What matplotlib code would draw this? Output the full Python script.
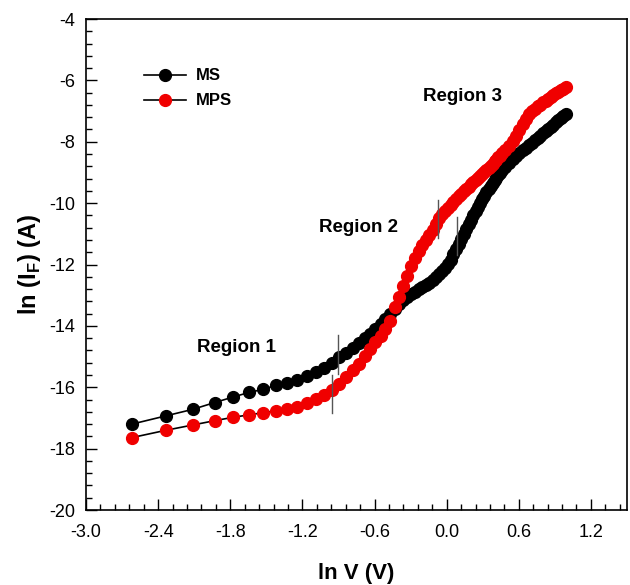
import numpy as np
import matplotlib
matplotlib.use("Agg")
import matplotlib.pyplot as plt
from matplotlib.ticker import MultipleLocator, FuncFormatter

plt.rcParams['font.family'] = ['Liberation Sans', 'DejaVu Sans']
plt.rcParams['mathtext.fontset'] = 'custom'
plt.rcParams['mathtext.rm'] = 'Liberation Sans'
plt.rcParams['mathtext.bf'] = 'Liberation Sans:bold'
plt.rcParams['axes.unicode_minus'] = False

# applied voltage (V)
volts = [0.073, 0.097, 0.121, 0.145, 0.169, 0.193, 0.217, 0.241, 0.265, 0.289,
         0.313, 0.337, 0.361, 0.385, 0.409, 0.433, 0.457, 0.481, 0.505, 0.529,
         0.553, 0.577, 0.601, 0.625, 0.649, 0.673, 0.697, 0.721, 0.745, 0.769,
         0.793, 0.817, 0.841, 0.865, 0.889, 0.913, 0.937, 0.961, 0.985,
         1.009, 1.033, 1.057, 1.081, 1.105, 1.129, 1.153, 1.177, 1.201, 1.225,
         1.249, 1.273, 1.297, 1.321, 1.345, 1.369, 1.393, 1.417, 1.441, 1.465,
         1.489, 1.513, 1.537, 1.561, 1.585,
         1.63, 1.68, 1.73, 1.78, 1.83, 1.88, 1.93, 1.98, 2.03, 2.08,
         2.13, 2.18, 2.23, 2.28, 2.33, 2.38, 2.43, 2.48, 2.53, 2.58, 2.63, 2.70]

# ln(I_F) for the MS diode
ln_i_ms = [-17.20, -16.93, -16.72, -16.50, -16.32, -16.17, -16.07, -15.94, -15.85, -15.75,
           -15.63, -15.50, -15.36, -15.22, -15.02, -14.88, -14.73, -14.56, -14.40, -14.25,
           -14.09, -13.93, -13.77, -13.62, -13.45, -13.28, -13.15, -13.06, -12.97, -12.89,
           -12.81, -12.74, -12.67, -12.60, -12.52, -12.42, -12.31, -12.20, -12.10,
           -11.98, -11.84, -11.67, -11.50, -11.33, -11.18, -11.01, -10.84, -10.69, -10.54,
           -10.40, -10.26, -10.12, -10.00, -9.88, -9.76, -9.65, -9.54, -9.45, -9.35,
           -9.26, -9.17, -9.08, -9.01, -8.93,
           -8.81, -8.68, -8.56, -8.46, -8.37, -8.28, -8.19, -8.11, -8.03, -7.95,
           -7.88, -7.81, -7.73, -7.66, -7.59, -7.51, -7.44, -7.37, -7.30, -7.23, -7.17, -7.10]

# ln(I_F) for the MPS diode
ln_i_mps = [-17.64, -17.40, -17.23, -17.09, -16.98, -16.90, -16.83, -16.77, -16.71, -16.64,
            -16.50, -16.37, -16.24, -16.08, -15.89, -15.67, -15.45, -15.23, -14.99, -14.75,
            -14.51, -14.34, -14.11, -13.84, -13.40, -13.05, -12.70, -12.38, -12.05, -11.78,
            -11.55, -11.37, -11.21, -11.04, -10.86, -10.68, -10.50, -10.37, -10.25,
            -10.15, -10.05, -9.96, -9.87, -9.78, -9.70, -9.62, -9.54, -9.46, -9.39,
            -9.32, -9.25, -9.18, -9.11, -9.04, -8.98, -8.91, -8.85, -8.78, -8.71,
            -8.64, -8.58, -8.51, -8.45, -8.38,
            -8.26, -8.13, -7.99, -7.80, -7.61, -7.43, -7.26, -7.10, -7.00, -6.92,
            -6.85, -6.79, -6.72, -6.66, -6.60, -6.54, -6.48, -6.42, -6.37, -6.32, -6.28, -6.22]

# region boundaries: (ln V, ln I low, ln I high)
bounds_ms = [(-0.906, -15.57, -14.30), (0.090, -11.69, -10.45)]
bounds_mps = [(-0.953, -16.85, -15.60), (-0.068, -11.15, -9.90)]

region_labels = ['Region 1', 'Region 2', 'Region 3']
region_pos = [(-1.75, -14.69), (-0.73, -10.81), (0.13, -6.54)]

ln_v = np.log(volts)

fig = plt.figure(figsize=(6.3, 5.85), dpi=100)
ax = fig.add_axes([0.1365, 0.1282, 0.8587, 0.8393])

ax.plot(ln_v, ln_i_ms, '-o', color='black', lw=1.2, ms=8.5,
        mfc='black', mec='black', label='MS')
ax.plot(ln_v, ln_i_mps, '-o', color='black', lw=1.2, ms=8.5,
        mfc='#f00000', mec='#f00000', label='MPS')

for x, y0, y1 in bounds_ms + bounds_mps:
    ax.plot([x, x], [y0, y1], color='#555555', lw=1.0)

for txt, (x, y) in zip(region_labels, region_pos):
    ax.text(x, y, txt, fontsize=13.5, fontweight='bold', ha='center', va='center')

def xfmt(v, pos):
    if abs(v) < 1e-9:
        return '0.0'
    return '%.1f' % v

ax.set_xlim(-3.0, 1.5)
ax.set_ylim(-20, -4)
ax.xaxis.set_major_locator(MultipleLocator(0.6))
ax.xaxis.set_minor_locator(MultipleLocator(0.12))
ax.yaxis.set_major_locator(MultipleLocator(2))
ax.yaxis.set_minor_locator(MultipleLocator(0.4))
ax.xaxis.set_major_formatter(FuncFormatter(xfmt))
ax.tick_params(which='both', direction='in', top=False, right=False,
               labelsize=13, width=1.0)
ax.tick_params(which='major', length=8)
ax.tick_params(which='minor', length=4)
ax.tick_params(axis='x', which='major', pad=10)
ax.tick_params(axis='y', which='major', pad=7.5)
for sp in ax.spines.values():
    sp.set_linewidth(1.2)

ax.set_xlabel('ln V (V)', fontsize=16, fontweight='bold', labelpad=16)
ax.set_ylabel(r'ln (I$_{\mathbf{F}}$) (A)', fontsize=17, fontweight='bold', labelpad=4.5)

ax.legend(loc='upper left', bbox_to_anchor=(0.08, 0.93), frameon=False,
          prop={'size': 12, 'weight': 'bold'}, handlelength=2.5,
          handletextpad=0.6, labelspacing=0.6)

fig.savefig('out.png', dpi=100)
